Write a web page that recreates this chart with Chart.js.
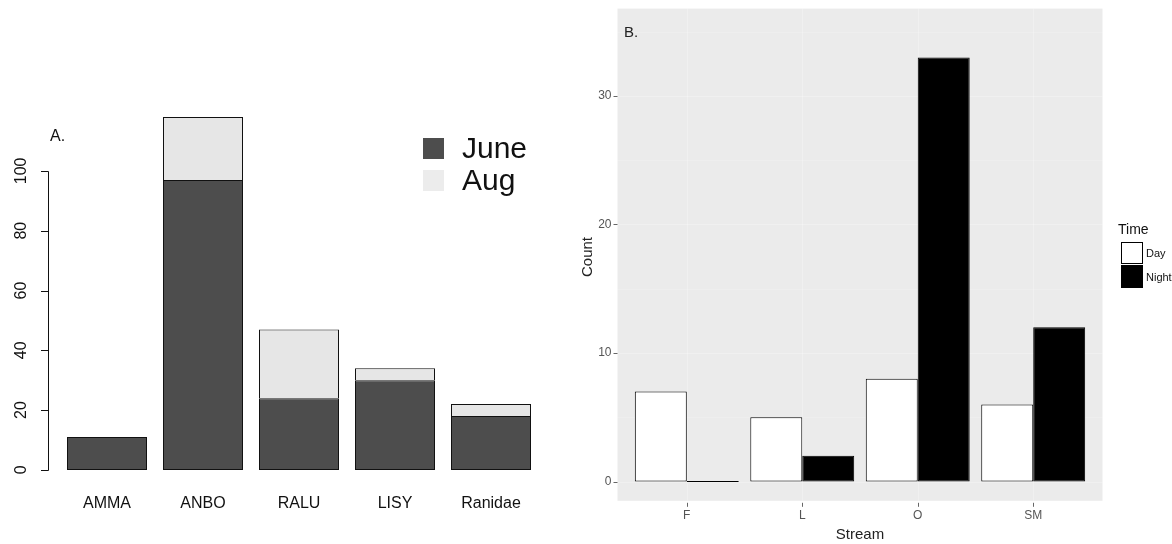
<!DOCTYPE html>
<html>
<head>
<meta charset="utf-8">
<script src="https://cdn.jsdelivr.net/npm/chart.js@4/dist/chart.umd.min.js"></script>
<style>
  html, body { margin: 0; padding: 0; background: #fff; overflow: hidden; }
  body { width: 1172px; height: 544px; position: relative; font-family: "Liberation Sans", Arial, sans-serif; }
  canvas { position: absolute; top: 0; }
  #chartA { left: 0; }
  #chartB { left: 560px; }
  .lg { position: absolute; white-space: nowrap; color: #111; }
  .sw { position: absolute; box-sizing: border-box; }
</style>
</head>
<body>
<canvas id="chartA" width="560" height="544"></canvas>
<canvas id="chartB" width="612" height="544"></canvas>

<!-- panel A legend -->
<div class="sw" style="left:423px;top:138px;width:21px;height:21px;background:#4d4d4d;"></div>
<div class="sw" style="left:423px;top:170px;width:21px;height:21px;background:#ececec;"></div>
<div class="lg" style="left:462px;top:131px;font-size:30px;line-height:34px;">June</div>
<div class="lg" style="left:462px;top:163px;font-size:30px;line-height:34px;">Aug</div>

<!-- panel B legend -->
<div class="lg" style="left:1118px;top:220px;font-size:14px;line-height:18px;">Time</div>
<div class="sw" style="left:1121px;top:242px;width:22px;height:22px;background:#fff;border:1px solid #000;"></div>
<div class="sw" style="left:1121px;top:265px;width:22px;height:23px;background:#000;"></div>
<div class="lg" style="left:1146px;top:246px;font-size:11px;line-height:14px;">Day</div>
<div class="lg" style="left:1146px;top:270px;font-size:11px;line-height:14px;">Night</div>

<script>
// Panel A: species counts by survey month
const speciesLabels = ['AMMA', 'ANBO', 'RALU', 'LISY', 'Ranidae'];
const juneCounts = [11, 97, 24, 30, 18];
const augCounts = [0, 21, 23, 4, 4];
const countTicksA = [0, 20, 40, 60, 80, 100];

// Panel B: counts by stream and time of day
const streamLabels = ['F', 'L', 'O', 'SM'];
const dayCounts = [7, 5, 8, 6];
const nightCounts = [0, 2, 33, 12];
const countTicksB = [0, 10, 20, 30];
const minorTicksB = [5, 15, 25, 35];

const FONT = '"Liberation Sans", Arial, sans-serif';

// base-graphics style axis: line from first to last tick, rotated labels
const baseAxisPlugin = {
  id: 'baseAxis',
  afterDraw(chart) {
    const ctx = chart.ctx;
    const y = chart.scales.y;
    const x = chart.scales.x;
    const axisX = chart.chartArea.left - 11;
    ctx.save();
    ctx.strokeStyle = '#111';
    ctx.lineWidth = 1;
    ctx.beginPath();
    ctx.moveTo(axisX + 0.5, Math.round(y.getPixelForValue(countTicksA[0])) + 0.5);
    ctx.lineTo(axisX + 0.5, Math.round(y.getPixelForValue(countTicksA[countTicksA.length - 1])) + 0.5);
    countTicksA.forEach(v => {
      const py = Math.round(y.getPixelForValue(v)) + 0.5;
      ctx.moveTo(axisX + 0.5, py);
      ctx.lineTo(axisX - 7, py);
    });
    ctx.stroke();

    ctx.fillStyle = '#111';
    ctx.font = '16px ' + FONT;
    ctx.textAlign = 'center';
    ctx.textBaseline = 'middle';
    countTicksA.forEach(v => {
      const py = y.getPixelForValue(v);
      ctx.save();
      ctx.translate(22, py);
      ctx.rotate(-Math.PI / 2);
      ctx.fillText(String(v), 0, 0);
      ctx.restore();
    });

    speciesLabels.forEach((lab, i) => {
      ctx.fillText(lab, x.getPixelForValue(i), 504);
    });

    ctx.textAlign = 'left';
    ctx.fillText('A.', 50, 137);
    ctx.restore();
  }
};

new Chart(document.getElementById('chartA'), {
  type: 'bar',
  data: {
    labels: speciesLabels,
    datasets: [
      { label: 'June', data: juneCounts, backgroundColor: '#4d4d4d', borderColor: '#111', borderWidth: 1, borderSkipped: false },
      { label: 'Aug', data: augCounts, backgroundColor: '#e6e6e6', borderColor: '#111', borderWidth: 1, borderSkipped: 'start' }
    ]
  },
  options: {
    responsive: false,
    animation: false,
    layout: { padding: { left: 59, right: 21, top: 103, bottom: 60 } },
    datasets: { bar: { categoryPercentage: 1, barPercentage: 80 / 96 } },
    scales: {
      x: { display: false, stacked: true },
      y: { display: false, stacked: true, min: -4.72, max: 122.72 }
    },
    plugins: { legend: { display: false }, tooltip: { enabled: false } }
  },
  plugins: [baseAxisPlugin]
});

// grey panel, faint white grid and outside ticks
const panelPlugin = {
  id: 'panel',
  beforeDatasetsDraw(chart) {
    const ctx = chart.ctx;
    const a = chart.chartArea;
    const x = chart.scales.x;
    const y = chart.scales.y;
    ctx.save();
    ctx.fillStyle = '#ebebeb';
    ctx.fillRect(a.left, a.top, a.right - a.left, a.bottom - a.top);
    ctx.strokeStyle = 'rgba(255,255,255,0.15)';
    ctx.lineWidth = 1;
    ctx.beginPath();
    minorTicksB.forEach(v => {
      const py = Math.round(y.getPixelForValue(v)) + 0.5;
      ctx.moveTo(a.left, py); ctx.lineTo(a.right, py);
    });
    ctx.stroke();
    ctx.strokeStyle = 'rgba(255,255,255,0.25)';
    ctx.beginPath();
    countTicksB.forEach(v => {
      const py = Math.round(y.getPixelForValue(v)) + 0.5;
      ctx.moveTo(a.left, py); ctx.lineTo(a.right, py);
    });
    streamLabels.forEach((s, i) => {
      const px = Math.round(x.getPixelForValue(i + 1)) + 0.5;
      ctx.moveTo(px, a.top); ctx.lineTo(px, a.bottom);
    });
    ctx.stroke();
    ctx.restore();
  },
  afterDraw(chart) {
    const ctx = chart.ctx;
    const a = chart.chartArea;
    const x = chart.scales.x;
    const y = chart.scales.y;
    ctx.save();
    ctx.strokeStyle = '#666';
    ctx.lineWidth = 1;
    ctx.beginPath();
    countTicksB.forEach(v => {
      const py = Math.round(y.getPixelForValue(v)) + 0.5;
      ctx.moveTo(a.left - 4, py); ctx.lineTo(a.left, py);
    });
    streamLabels.forEach((s, i) => {
      const px = Math.round(x.getPixelForValue(i + 1)) + 0.5;
      ctx.moveTo(px, a.bottom + 2); ctx.lineTo(px, a.bottom + 6);
    });
    ctx.stroke();

    ctx.fillStyle = '#555';
    ctx.font = '12px ' + FONT;
    ctx.textAlign = 'right';
    ctx.textBaseline = 'middle';
    countTicksB.forEach(v => {
      ctx.fillText(String(v), a.left - 6, y.getPixelForValue(v));
    });
    ctx.textAlign = 'center';
    streamLabels.forEach((s, i) => {
      ctx.fillText(s, x.getPixelForValue(i + 1), 516);
    });

    ctx.fillStyle = '#222';
    ctx.font = '15px ' + FONT;
    ctx.fillText('Stream', (a.left + a.right) / 2, 535);
    ctx.save();
    ctx.translate(28, 257);
    ctx.rotate(-Math.PI / 2);
    ctx.fillText('Count', 0, 0);
    ctx.restore();
    ctx.textAlign = 'left';
    ctx.fillText('B.', 64, 33);
    ctx.restore();
  }
};

new Chart(document.getElementById('chartB'), {
  type: 'bar',
  data: {
    datasets: [
      { label: 'Day', data: dayCounts.map((v, i) => ({ x: i + 1, y: v })), backgroundColor: '#ffffff', borderColor: '#000', borderWidth: 1, borderSkipped: false },
      { label: 'Night', data: nightCounts.map((v, i) => ({ x: i + 1, y: v })), backgroundColor: '#000000', borderColor: '#000', borderWidth: 1, borderSkipped: false, minBarLength: 1 }
    ]
  },
  options: {
    responsive: false,
    animation: false,
    layout: { padding: { left: 57.5, right: 69.5, top: 8.6, bottom: 43.2 } },
    datasets: { bar: { categoryPercentage: 0.9, barPercentage: 1 } },
    scales: {
      x: {
        type: 'linear', display: false, offset: false, min: 0.4, max: 4.6,
        // one tick per stream so the bar width follows the category spacing
        afterBuildTicks: s => { s.ticks = streamLabels.map((_, i) => ({ value: i + 1 })); }
      },
      y: { display: false, min: -1.5, max: 36.8 }
    },
    plugins: { legend: { display: false }, tooltip: { enabled: false } }
  },
  plugins: [panelPlugin]
});
</script>
</body>
</html>
